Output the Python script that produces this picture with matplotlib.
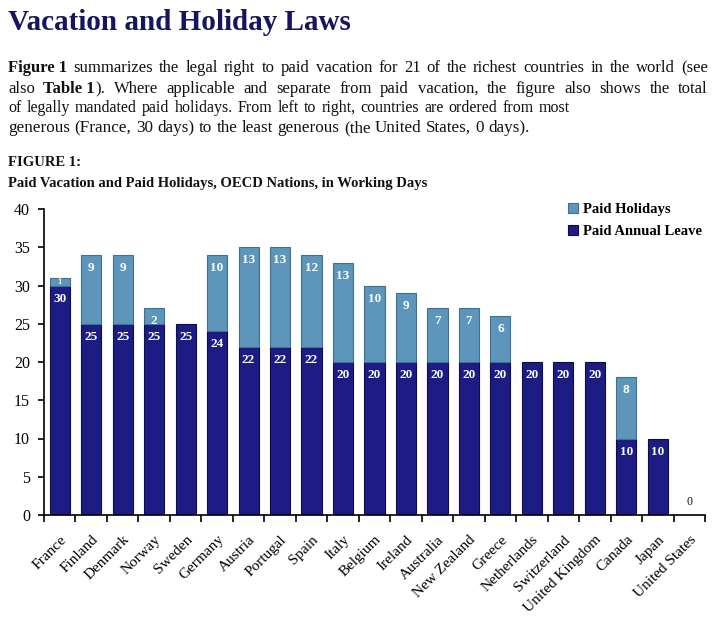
"""
Figure 1: paid vacation and paid holidays in OECD nations.
"""

import matplotlib
matplotlib.use("Agg")
import matplotlib.pyplot as plt
import numpy as np

countries = [
    "France", "Finland", "Denmark", "Norway", "Sweden", "Germany", "Austria",
    "Portugal", "Spain", "Italy", "Belgium", "Ireland", "Australia",
    "New Zealand", "Greece", "Netherlands", "Switzerland", "United Kingdom",
    "Canada", "Japan", "United States",
]
annual_leave = [30, 25, 25, 25, 25, 24, 22, 22, 22, 20, 20, 20, 20, 20, 20, 20, 20, 20, 10, 10, 0]
holidays = [1, 9, 9, 2, 0, 10, 13, 13, 12, 13, 10, 9, 7, 7, 6, 0, 0, 0, 8, 0, 0]
y_ticks = [0, 5, 10, 15, 20, 25, 30, 35, 40]

NAVY = "#1c1c84"
NAVY_EDGE = "#0c0c4a"
LIGHT = "#5d95bb"
LIGHT_EDGE = "#3f6f92"
SERIF = ["Liberation Serif", "DejaVu Serif"]

plt.rcParams["font.family"] = SERIF

fig = plt.figure(figsize=(7.2, 6.24), dpi=100)
renderer = fig.canvas.get_renderer()
W, H = 720.0, 624.0


def draw_line(y, pieces, x0, x1=None, size=11.5):
    """Draw a line of words; pieces are (text, bold, attach). Justify if x1."""
    texts = []
    for word, bold, attach in pieces:
        t = fig.text(0, 1 - y / H, word, fontsize=size, va="baseline", ha="left",
                     fontweight="bold" if bold else "normal", color="#111111")
        texts.append((t, attach))
    widths = [t.get_window_extent(renderer).width for t, _ in texts]
    a1 = fig.text(0, 0, "a a", fontsize=size)
    a2 = fig.text(0, 0, "aa", fontsize=size)
    sw = a1.get_window_extent(renderer).width - a2.get_window_extent(renderer).width
    a1.remove()
    a2.remove()
    n_gaps = sum(1 for _, a in texts[1:] if not a)
    if x1 is not None and n_gaps:
        gap = (x1 - x0 - sum(widths)) / n_gaps
    else:
        gap = sw
    x = x0
    for (t, attach), w in zip(texts, widths):
        if attach:
            x -= gap
        t.set_x(x / W)
        x += w + gap


def words(s, bold=False):
    return [(w, bold, False) for w in s.split()]


# Title and intro paragraph
fig.text(8 / W, 1 - 22 / H, "Vacation and Holiday Laws", fontsize=21,
         fontweight="bold", color="#151560", va="center", ha="left")

draw_line(72, [("Figure 1", True, False)] + words(
    "summarizes the legal right to paid vacation for 21 of the richest countries in the world (see"),
    8, 708, size=12)
draw_line(93, [("also", False, False), ("Table 1", True, False), (").", False, True)] + words(
    "Where applicable and separate from paid vacation, the figure also shows the total"),
    8, 708, size=12)
draw_line(112, words(
    "of legally mandated paid holidays. From left to right, countries are ordered from most"),
    8, 570, size=11.5)
draw_line(132, words(
    "generous (France, 30 days) to the least generous (the United States, 0 days)."),
    8, 530, size=12.3)

fig.text(8 / W, 1 - 163 / H, "FIGURE 1:", fontsize=10.5, fontweight="bold",
         va="center", ha="left", color="#111111")
fig.text(8 / W, 1 - 183 / H,
         "Paid Vacation and Paid Holidays, OECD Nations, in Working Days",
         fontsize=10.5, fontweight="bold", va="center", ha="left", color="#111111")

# Chart
ax = fig.add_axes([44 / W, 1 - 515 / H, (705 - 44) / W, (515 - 209) / H])
x = np.arange(len(countries))
bw = 0.64
annual = np.array(annual_leave)
hol = np.array(holidays)

ax.bar(x, annual, bw, color=NAVY, edgecolor=NAVY_EDGE,
       linewidth=[0.8 if a > 0 else 0 for a in annual],
       label="Paid Annual Leave", zorder=2)
ax.bar(x, hol, bw, bottom=annual, color=LIGHT, edgecolor=LIGHT_EDGE,
       linewidth=[0.8 if h > 0 else 0 for h in hol],
       label="Paid Holidays", zorder=2)

for i in range(len(countries)):
    a, h = annual[i], hol[i]
    if a > 0:
        ax.text(x[i], a - 1.7, str(a), color="white", fontsize=9.5,
                fontweight="bold", ha="center", va="center", zorder=3)
    else:
        ax.text(x[i], 1.7, "0", color="#111111", fontsize=8.5,
                ha="center", va="center", zorder=3)
    if h > 1:
        ax.text(x[i], a + h - 1.7, str(h), color="white", fontsize=9.5,
                fontweight="bold", ha="center", va="center", zorder=3)
    elif h == 1:
        ax.text(x[i], a + h / 2, str(h), color="white", fontsize=6,
                fontweight="bold", ha="center", va="center", zorder=3)

ax.set_xlim(-0.5, len(countries) - 0.5)
ax.set_ylim(0, 40)
ax.set_yticks(y_ticks)
ax.set_yticklabels([str(v) for v in y_ticks], fontsize=11.5)
ax.set_xticks(x)
ax.set_xticklabels(countries, rotation=45, ha="right", rotation_mode="anchor",
                   fontsize=11)
ax.tick_params(axis="x", length=0, pad=13)
ax.set_xticks(np.arange(-0.5, len(countries), 1.0), minor=True)
ax.tick_params(axis="x", which="minor", length=5, width=1.2, direction="out")
ax.tick_params(axis="y", length=4, width=1.2, direction="out", pad=6)

for side in ["top", "right"]:
    ax.spines[side].set_visible(False)
for side in ["left", "bottom"]:
    ax.spines[side].set_linewidth(1.2)

handles, labels = ax.get_legend_handles_labels()
leg = ax.legend(handles[::-1], labels[::-1], loc="upper left",
                bbox_to_anchor=(555 / W, 1 - 190 / H), bbox_transform=fig.transFigure,
                frameon=False, handlelength=0.7, handleheight=0.7,
                handletextpad=0.3, labelspacing=0.6,
                prop={"family": SERIF, "weight": "bold", "size": 10.5})

fig.savefig("out.png", dpi=100)
